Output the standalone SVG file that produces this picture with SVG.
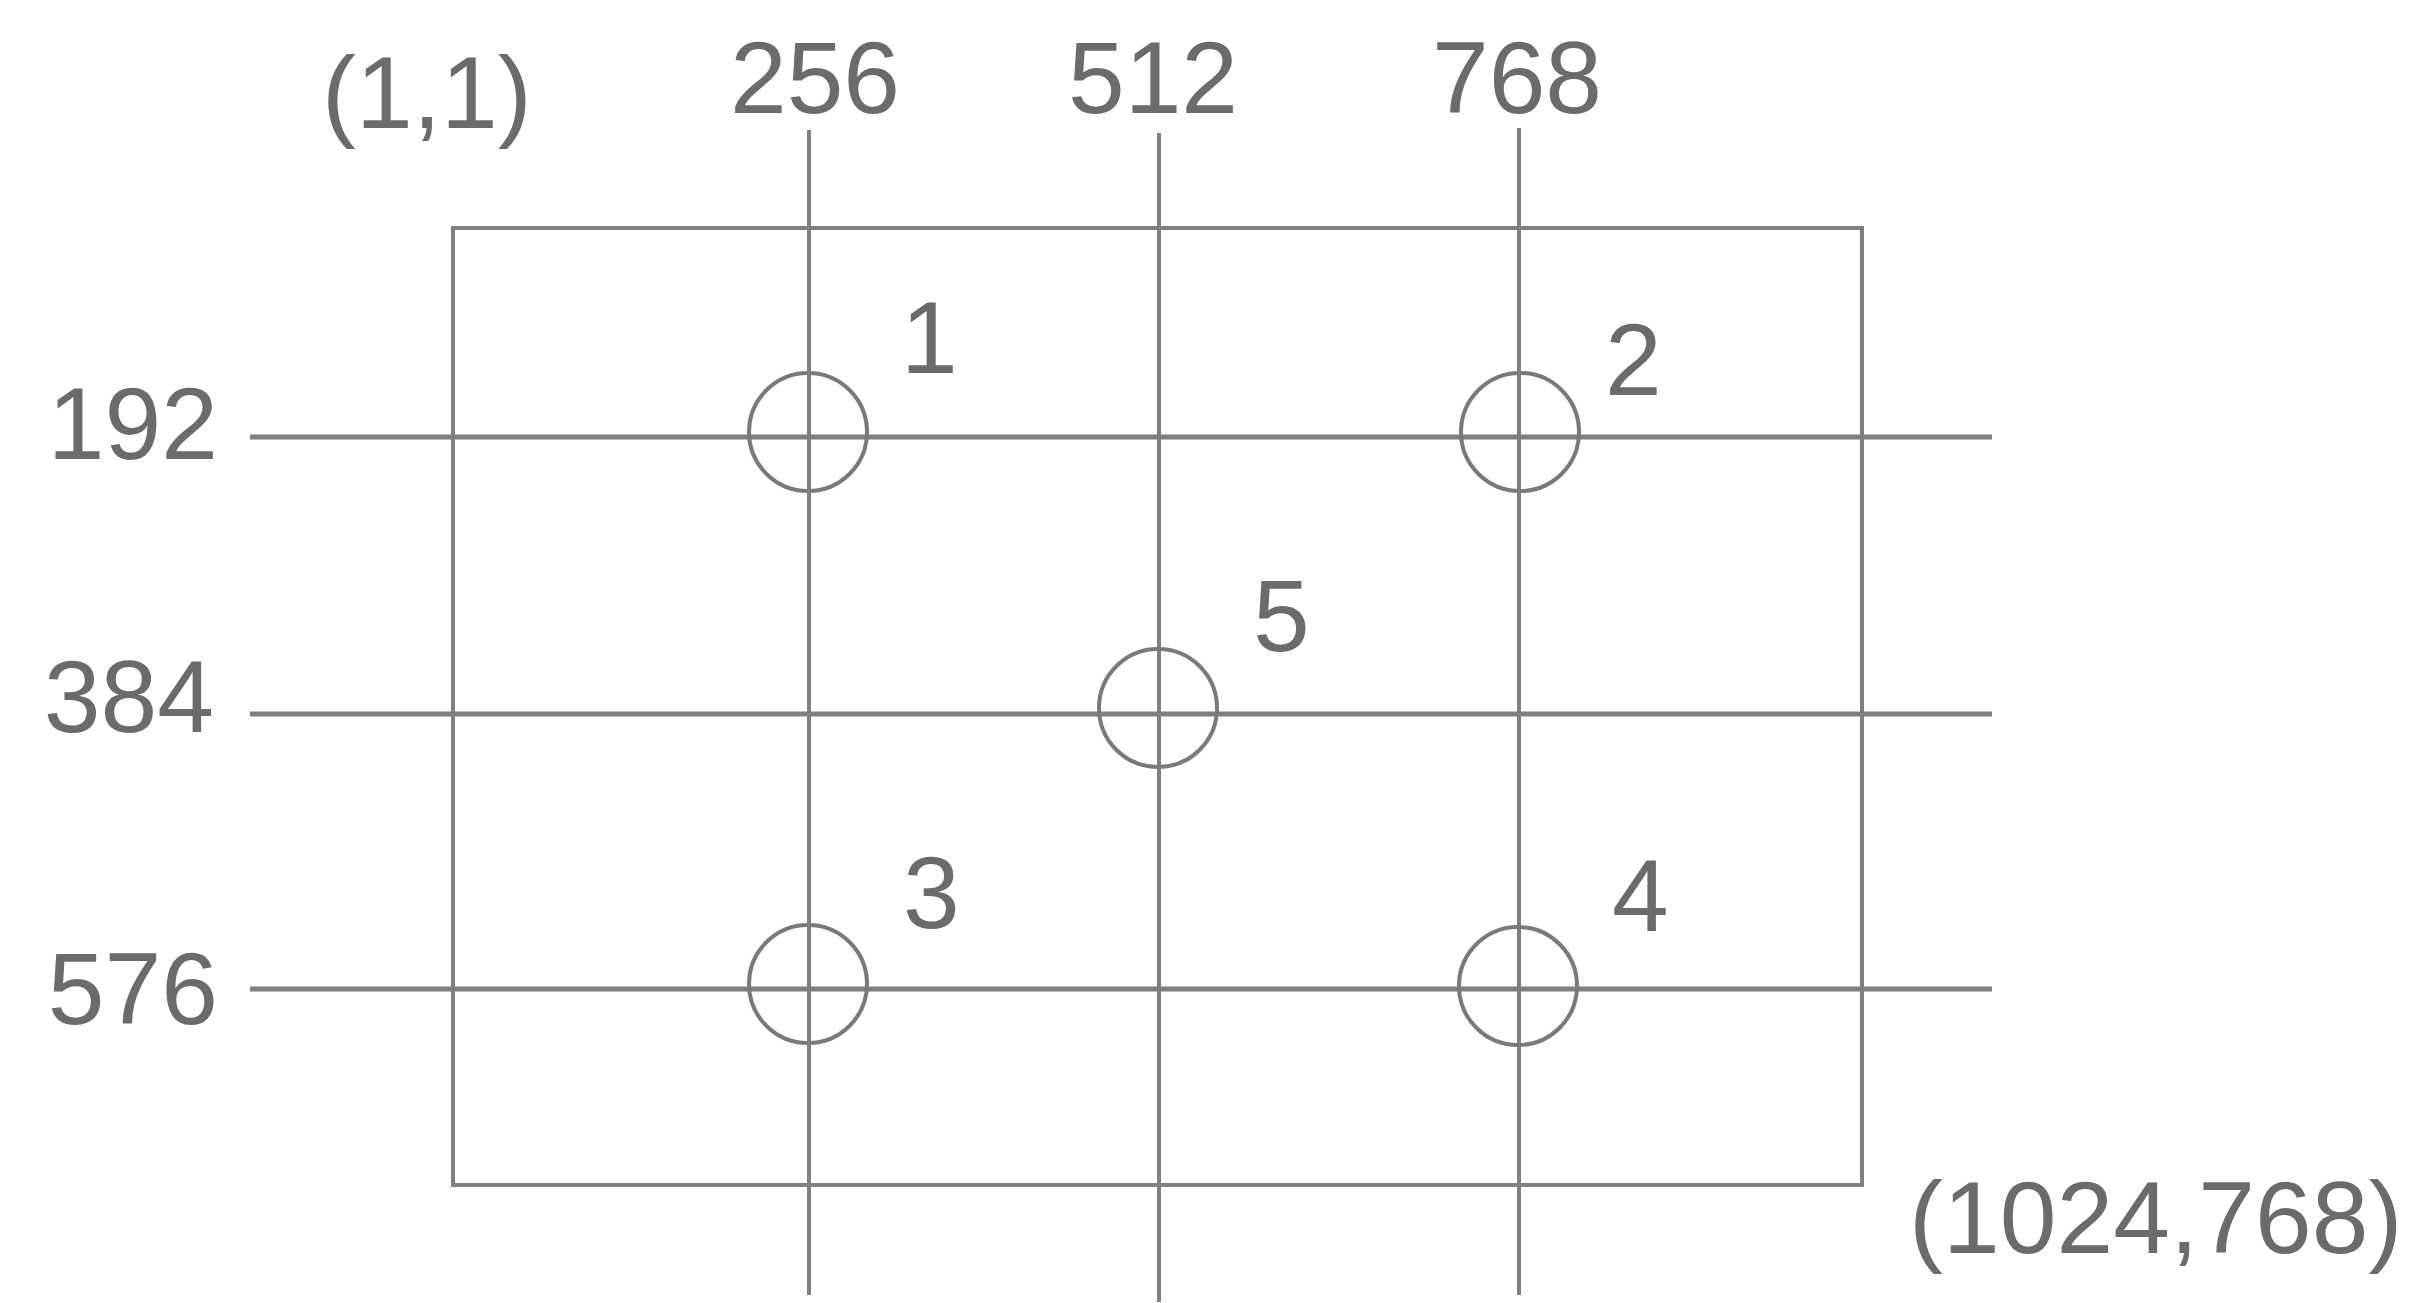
<svg xmlns="http://www.w3.org/2000/svg" width="2423" height="1303" viewBox="0 0 2423 1303">
  <style>
    .ln { stroke: #7f7f7f; fill: none; }
    .h { stroke-width: 5; }
    .v { stroke-width: 4; }
    .c { stroke: #7a7a7a; stroke-width: 4; fill: none; }
    .t { font-family: "Liberation Sans", Arial, sans-serif; font-size: 102px; fill: #6b6b6b; }
    .e { text-anchor: end; }
    .m { text-anchor: middle; }
  </style>
  <rect width="2423" height="1303" fill="#ffffff"/>
  <g id="frame">
    <rect class="ln" x="453" y="228" width="1409" height="957" stroke-width="4"/>
  </g>
  <g id="connectors">
    <line class="ln h" x1="250" y1="437" x2="1992" y2="437"/>
    <line class="ln h" x1="250" y1="714" x2="1992" y2="714"/>
    <line class="ln h" x1="250" y1="989" x2="1992" y2="989"/>
    <line class="ln v" x1="809" y1="130" x2="809" y2="1295"/>
    <line class="ln v" x1="1159" y1="133" x2="1159" y2="1302"/>
    <line class="ln v" x1="1519" y1="128" x2="1519" y2="1295"/>
  </g>
  <g id="node1"><circle class="c" cx="808" cy="432" r="59"/><text class="t" x="901" y="373">1</text></g>
  <g id="node2"><circle class="c" cx="1520" cy="432" r="59"/><text class="t" x="1605" y="395">2</text></g>
  <g id="node3"><circle class="c" cx="808" cy="984" r="59"/><text class="t" x="903" y="928">3</text></g>
  <g id="node4"><circle class="c" cx="1518" cy="986" r="59"/><text class="t" x="1612" y="931">4</text></g>
  <g id="node5"><circle class="c" cx="1158" cy="708" r="59"/><text class="t" x="1253" y="651">5</text></g>
  <g id="labels">
    <text class="t" x="322" y="128">(1,1)</text>
    <text class="t m" x="815" y="113">256</text>
    <text class="t m" x="1153" y="113">512</text>
    <text class="t m" x="1517" y="113">768</text>
    <text class="t e" x="218" y="459">192</text>
    <text class="t e" x="214" y="732">384</text>
    <text class="t e" x="218" y="1024">576</text>
    <text class="t" x="1909" y="1253">(1024,768)</text>
  </g>
</svg>
